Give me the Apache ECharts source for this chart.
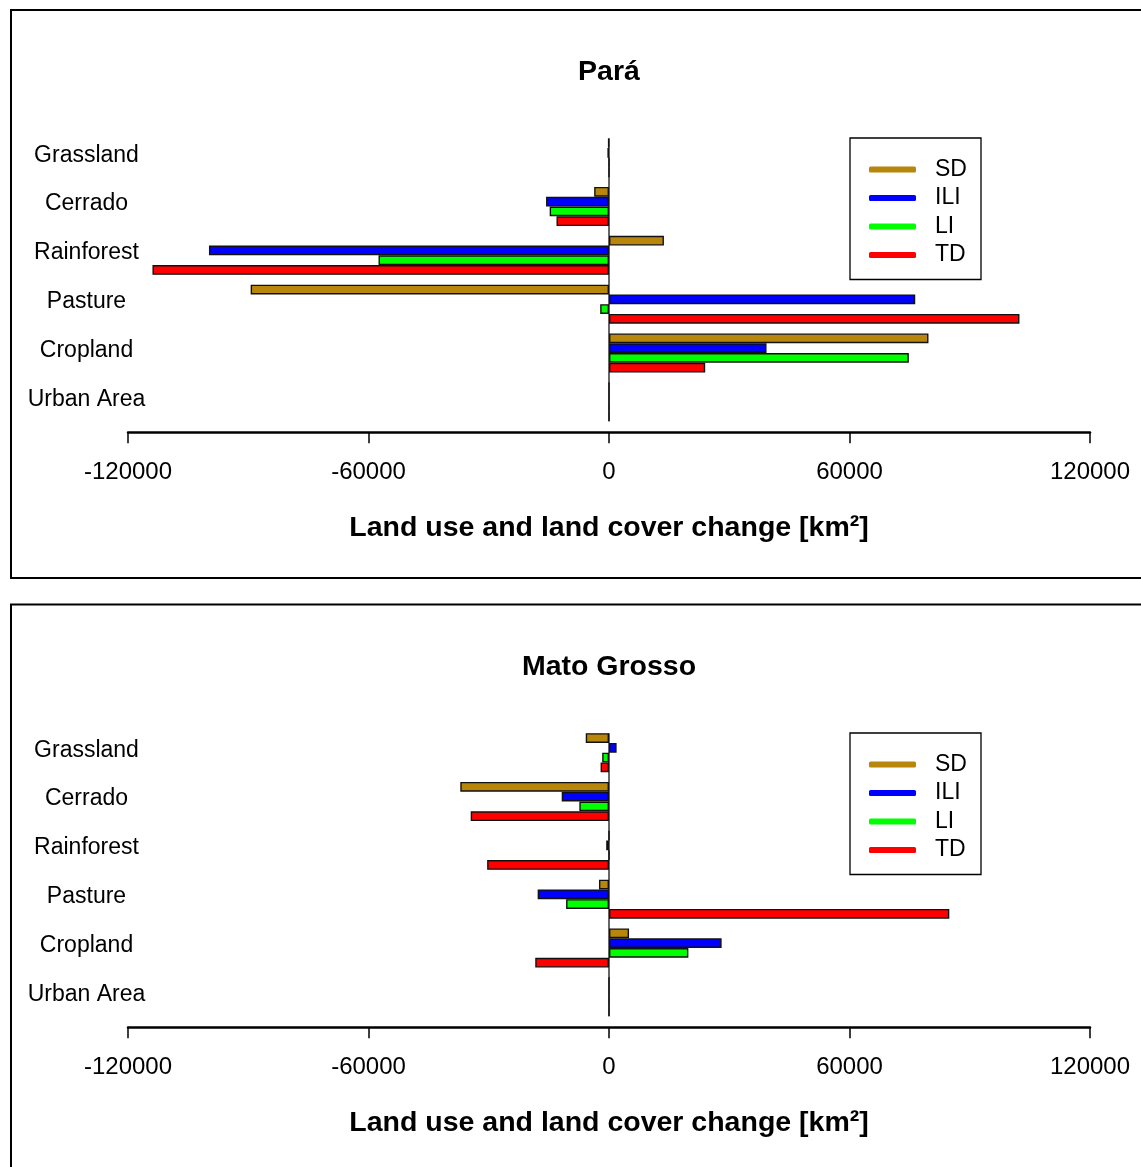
<!DOCTYPE html>
<html>
<head>
<meta charset="utf-8">
<script src="https://cdn.jsdelivr.net/npm/echarts@6/dist/echarts.min.js"></script>
<style>
  html, body { margin: 0; padding: 0; background: #fff; }
  #chart { width: 1141px; height: 1167px; }
</style>
</head>
<body>
<div id="chart"></div>
<script>
// Land use categories, listed top to bottom
const categories = ['Grassland', 'Cerrado', 'Rainforest', 'Pasture', 'Cropland', 'Urban Area'];
// Scenario names and their colours
const scenarios = ['SD', 'ILI', 'LI', 'TD'];
const scenarioColors = ['#B8860B', '#0000FF', '#00FF00', '#FF0000'];
// x axis ticks (km²)
const xTicks = [-120000, -60000, 0, 60000, 120000];

// Pará: change per category (km²)
const paraSD  = [-200,  -3700,   13700, -89400, 79700, 0];
const paraILI = [-400,  -15700, -99800,  76400, 39300, 0];
const paraLI  = [0,     -14800, -57500,  -2200, 74800, 0];
const paraTD  = [0,     -13100, -113900, 102400, 24000, 0];

// Mato Grosso: change per category (km²)
const mtSD  = [-5800, -37100,  0,     -2500,  5000,  0];
const mtILI = [1900,  -11800, -700,   -17800, 28100, 0];
const mtLI  = [-1700, -7400,   0,     -10700, 19800, 0];
const mtTD  = [-2100, -34500, -30400,  84900, -18400, 0];

const panels = [
  { title: 'Pará',        values: [paraSD, paraILI, paraLI, paraTD] },
  { title: 'Mato Grosso', values: [mtSD, mtILI, mtLI, mtTD] }
];

const FONT = "'Liberation Sans', Arial, Helvetica, sans-serif";
const PANEL_STEP = 595;     // vertical distance between the two panels
const GRID_LEFT = 128, GRID_WIDTH = 962;
const GRID_TOP = 133.25, GRID_HEIGHT = 293;

const option = {
  backgroundColor: '#fff',
  animation: false,
  title: [], legend: [], grid: [], xAxis: [], yAxis: [], series: [],
  graphic: []
};

panels.forEach((p, i) => {
  const dy = i * PANEL_STEP;

  // frame round each panel
  option.graphic.push({
    type: 'rect', silent: true, z: 0,
    shape: { x: 11, y: 10 + dy - (i ? 0.4 : 0), width: 1200, height: i ? 1000 : 568 },
    style: { fill: 'none', stroke: '#000', lineWidth: 2 }
  });

  option.title.push({
    text: p.title, left: 609, top: 58 + dy, textAlign: 'center', padding: 0,
    textStyle: { fontFamily: FONT, fontSize: 28.5, fontWeight: 'bold', color: '#000' }
  });

  option.legend.push({
    data: scenarios, orient: 'vertical', left: 850, top: 138 + dy,
    selectedMode: false,
    padding: [20, 13, 13, 19], itemGap: 5.5,
    itemWidth: 47, itemHeight: 6, icon: 'roundRect',
    itemStyle: { borderWidth: 0 },
    borderColor: '#000', borderWidth: 1.3, backgroundColor: '#fff',
    textStyle: { fontFamily: FONT, fontSize: 23, lineHeight: 22, color: '#000',
                 padding: [0, 0, 0, 14], width: 33 }
  });

  option.grid.push({ left: GRID_LEFT, width: GRID_WIDTH, top: GRID_TOP + dy, height: GRID_HEIGHT });

  option.xAxis.push({
    type: 'value', gridIndex: i, position: 'bottom',
    min: xTicks[0], max: xTicks[xTicks.length - 1], interval: xTicks[1] - xTicks[0],
    offset: 6,
    axisLine: { show: true, onZero: false, lineStyle: { color: '#000', width: 2.5 } },
    axisTick: { show: true, length: 11, lineStyle: { color: '#000', width: 1.5 } },
    splitLine: { show: false },
    axisLabel: { fontFamily: FONT, fontSize: 24, color: '#000', margin: 28,
                 formatter: v => String(v) },
    name: 'Land use and land cover change [km²]',
    nameLocation: 'middle', nameGap: 81,
    nameTextStyle: { fontFamily: FONT, fontSize: 28.5, fontWeight: 'bold', color: '#000' }
  });

  // category axis carrying the bars; labels sit slightly above each group's centre
  option.yAxis.push({
    type: 'category', gridIndex: i, data: categories, inverse: true,
    axisLine: { show: false }, axisTick: { show: false }, splitLine: { show: false },
    axisLabel: {
      fontFamily: FONT, fontSize: 23, color: '#000', align: 'center', margin: 41.5,
      formatter: v => '{c|' + v + '}',
      rich: { c: { fontFamily: FONT, fontSize: 23, color: '#000', padding: [0, 0, 5, 0] } }
    }
  });
  // hidden value axis aligned with the categories, used for the zero reference line
  option.yAxis.push({
    type: 'value', gridIndex: i, min: -0.5, max: categories.length - 0.5, inverse: true,
    show: false
  });

  // zero reference line spanning the bar groups
  option.series.push({
    type: 'line', xAxisIndex: i, yAxisIndex: i * 2 + 1, z: 1,
    data: [[0, -0.4], [0, categories.length - 0.6]],
    symbol: 'none', silent: true,
    lineStyle: { color: '#333', width: 1.5 }
  });

  scenarios.forEach((name, k) => {
    option.series.push({
      type: 'bar', name, xAxisIndex: i, yAxisIndex: i * 2, z: 2,
      data: p.values[k],
      barGap: '0%', barCategoryGap: '20%',
      itemStyle: { color: scenarioColors[k], borderColor: '#111', borderWidth: 1.4 }
    });
  });
});

const chart = echarts.init(document.getElementById('chart'), null, { renderer: 'canvas' });
chart.setOption(option);
</script>
</body>
</html>
